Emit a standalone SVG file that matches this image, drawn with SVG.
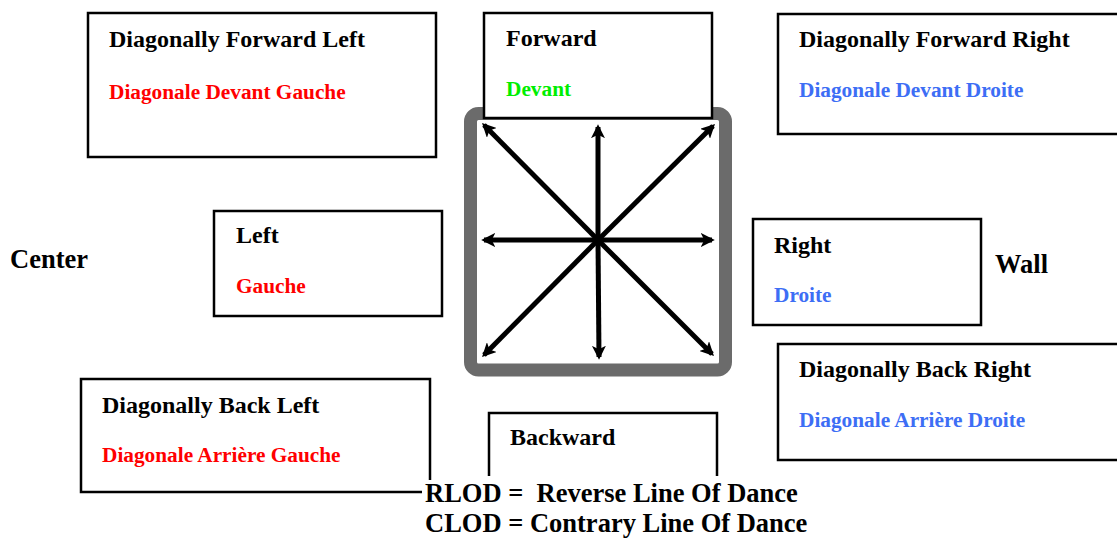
<svg xmlns="http://www.w3.org/2000/svg" width="1117" height="538" viewBox="0 0 1117 538">
<style>
.box{fill:#fff;stroke:#000;stroke-width:2.5}
.open{fill:none;stroke:#000;stroke-width:2.5}
text{font-family:"Liberation Serif","Times New Roman",serif;font-weight:bold}
.t{font-size:24px;fill:#000}
.r{font-size:21.3px;fill:#ff0000}
.b{font-size:21.3px;fill:#3d6ef5}
.g{font-size:21.3px;fill:#00ee00}
.big{font-size:26.5px;fill:#000}
.arr{stroke:#000;stroke-width:5;fill:none;marker-end:url(#ah)}
</style>
<defs>
<marker id="ah" viewBox="0 0 10 10" refX="8" refY="5" markerWidth="2.8" markerHeight="2.8" orient="auto" markerUnits="strokeWidth">
<path d="M0,0 L10,5 L0,10 L2.5,5 z" fill="#000"/>
</marker>
</defs>
<rect width="1117" height="538" fill="#fff"/>
<g id="compass">
<rect x="470.5" y="113.5" width="255" height="256.5" rx="8" fill="#fff" stroke="#6b6b6b" stroke-width="13"/>
</g>
<g id="connectors">
<line class="arr" x1="598" y1="240" x2="598" y2="127"/>
<line class="arr" x1="598" y1="240" x2="599" y2="357"/>
<line class="arr" x1="598" y1="240" x2="484" y2="240"/>
<line class="arr" x1="598" y1="240" x2="712" y2="240"/>
<line class="arr" x1="598" y1="240" x2="484" y2="125"/>
<line class="arr" x1="598" y1="240" x2="713" y2="126"/>
<line class="arr" x1="598" y1="240" x2="484" y2="355"/>
<line class="arr" x1="598" y1="240" x2="712" y2="354"/>
</g>
<g id="dfl">
<rect class="box" x="88" y="13" width="348" height="144"/>
<text class="t" x="109" y="47">Diagonally Forward Left</text>
<text class="r" x="109" y="99">Diagonale Devant Gauche</text>
</g>
<g id="forward">
<rect class="box" x="484" y="13" width="228" height="105"/>
<text class="t" x="506" y="46">Forward</text>
<text class="g" x="506" y="96">Devant</text>
</g>
<g id="dfr">
<rect class="box" x="778" y="14" width="345" height="120"/>
<text class="t" x="799" y="47">Diagonally Forward Right</text>
<text class="b" x="799" y="97">Diagonale Devant Droite</text>
</g>
<g id="left">
<rect class="box" x="214" y="211" width="228" height="105"/>
<text class="t" x="236" y="243">Left</text>
<text class="r" x="236" y="293">Gauche</text>
</g>
<g id="right">
<rect class="box" x="753" y="219" width="228" height="106"/>
<text class="t" x="774" y="253">Right</text>
<text class="b" x="774" y="302">Droite</text>
</g>
<g id="dbr">
<rect class="box" x="778" y="344" width="345" height="116"/>
<text class="t" x="799" y="377">Diagonally Back Right</text>
<text class="b" x="799" y="427">Diagonale Arrière Droite</text>
</g>
<g id="dbl">
<path class="open" d="M430,480 V379 H81 V492 H422"/>
<text class="t" x="102" y="413">Diagonally Back Left</text>
<text class="r" x="102" y="462">Diagonale Arrière Gauche</text>
</g>
<g id="backward">
<path class="open" d="M489,476 V413 H717 V476"/>
<text class="t" x="510" y="445">Backward</text>
</g>
<g id="center">
<text class="big" x="10" y="268">Center</text>
</g>
<g id="wall">
<text class="big" x="995" y="273">Wall</text>
</g>
<g id="legend">
<text class="big" x="425" y="502" xml:space="preserve">RLOD =  Reverse Line Of Dance</text>
<text class="big" x="425" y="532">CLOD = Contrary Line Of Dance</text>
</g>
</svg>
